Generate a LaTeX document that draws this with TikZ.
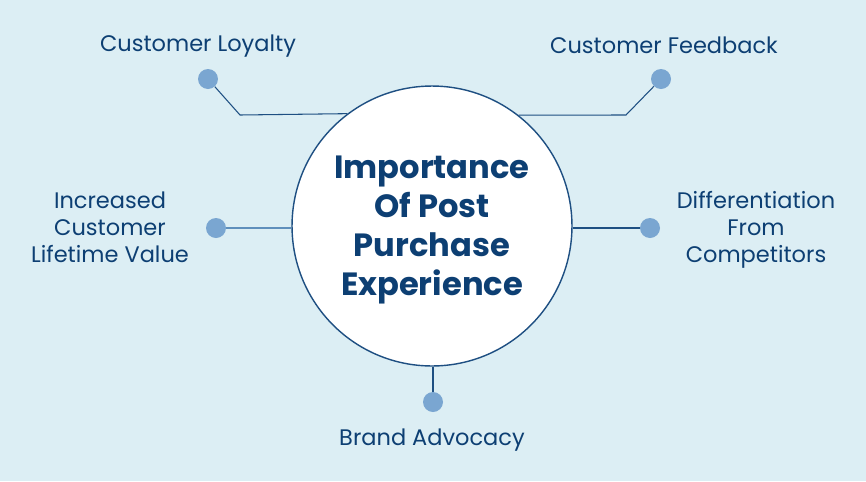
\documentclass[tikz,border=0pt]{standalone}
\usepackage{fontspec}
\setmainfont{Poppins}
\usetikzlibrary{positioning}
\usetikzlibrary{calc}

\definecolor{bgblue}{HTML}{DCEEF4}
\definecolor{navy}{HTML}{0D3F73}
\definecolor{dotblue}{HTML}{7AA6D1}
\definecolor{lineblue}{HTML}{1E4F82}
\definecolor{softline}{HTML}{5F8FBC}

\tikzset{
  label/.style={text=navy, align=center, font=\fontsize{12.8}{15.3}\selectfont},
  dot/.style={circle, fill=dotblue, inner sep=0pt, minimum size=0.4cm},
  link/.style={draw=lineblue, line width=0.6pt},
}

\begin{document}
\begin{tikzpicture}[x=0.02cm,y=-0.02cm]
\fill[bgblue] (0,0) rectangle (866,481);
\useasboundingbox (0,0) rectangle (866,481);

% main circle
\node[circle, draw=lineblue, line width=0.8pt, fill=white, minimum size=5.6cm]
  (centre) at (432,226) {};
\node[text=navy, align=center, font=\fontsize{18.3}{22.1}\selectfont\bfseries]
  (title) at (432,230) {Importance\\Of Post\\Purchase\\Experience};

% dots
\node[dot] (loyal) at (208,79) {};
\node[dot] (feed) at (661,79) {};
\node[dot] (value) at (216,228) {};
\node[dot] (diff) at (650,228) {};
\node[dot] (brand) at (433,402) {};

% bends
\coordinate (lbend) at (240,115);
\coordinate (rbend) at (626,115);

% connectors
\draw[link] (loyal) -- (lbend) -- (centre.127.5);
\draw[link] (feed) -- (rbend) -- (centre.52.5);
\draw[draw=softline, line width=0.9pt] (value) -- (centre.west |- value);
\draw[link] (diff) -- (centre.east |- diff);
\draw[link] (brand) -- (centre.south -| brand);

% labels
\node[label] (tloyal) at (198,46) {Customer Loyalty};
\node[label] (tfeed) at (664,45) {Customer Feedback};
\node[label] (tvalue) at (110,227) {Increased\\Customer\\Lifetime Value};
\node[label] (tdiff) at (756,230) {Differentiation\\From\\Competitors};
\node[label] (tbrand) at (432,440) {Brand Advocacy};

\end{tikzpicture}
\end{document}
